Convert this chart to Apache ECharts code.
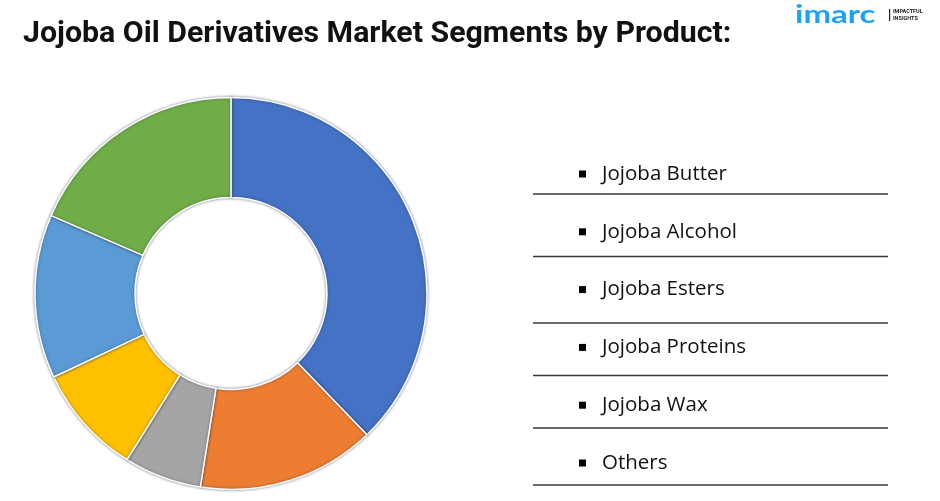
<!DOCTYPE html>
<html>
<head>
<meta charset="utf-8">
<script src="https://cdn.jsdelivr.net/npm/echarts@6/dist/echarts.min.js"></script>
<style>html,body{margin:0;padding:0;background:#fff;}#c{width:940px;height:501px;}</style>
</head>
<body>
<div id="c"></div>
<script>
const categories = ['Jojoba Butter', 'Jojoba Alcohol', 'Jojoba Esters', 'Jojoba Proteins', 'Jojoba Wax', 'Others'];
const shares = [37.8, 14.7, 6.4, 9.1, 13.5, 18.5];
const colors = ['#4472C4', '#ED7D31', '#A5A5A5', '#FFC000', '#5B9BD5', '#70AD47'];
const titleText = 'Jojoba Oil Derivatives Market Segments by Product:';

const chart = echarts.init(document.getElementById('c'));
const lineYs = [194, 256.5, 323, 375.5, 428, 485];
const graphics = lineYs.map(y => ({
  type: 'line', shape: {x1: 533, y1: y, x2: 888, y2: y},
  style: {stroke: '#3a3a3a', lineWidth: 1.3}
}));
graphics.push(
  {type: 'text', x: 23, y: 34, style: {text: titleText, font: 'bold 30.3px Roboto', fill: '#111', textVerticalAlign: 'middle'}},
  {type: 'text', x: 795, y: 3, scaleX: 1.5, scaleY: 1.1, style: {text: 'imarc', font: 'bold 22px Lato', fill: '#1DA1F2'}},
  {type: 'rect', shape: {x: 889, y: 9, width: 1.2, height: 12}, style: {fill: '#222'}},
  {type: 'text', x: 893, y: 9, style: {text: 'IMPACTFUL', font: 'bold 5.5px Roboto', fill: '#222'}},
  {type: 'text', x: 893, y: 16, style: {text: 'INSIGHTS', font: 'bold 5.5px Roboto', fill: '#222'}}
);

chart.setOption({
  animation: false,
  color: colors,
  legend: {
    orient: 'vertical', left: 574, top: 158.5,
    icon: 'rect', itemWidth: 7, itemHeight: 7, itemGap: 36.8,
    itemStyle: {color: '#000', borderWidth: 0},
    textStyle: {fontFamily: 'Open Sans', fontSize: 20.5, color: '#111', lineHeight: 20, padding: [0, 0, 0, 11]},
    selectedMode: false,
    data: categories
  },
  graphic: graphics,
  series: [{
    type: 'pie',
    center: [231, 293.5],
    radius: [96, 196],
    startAngle: 90,
    clockwise: true,
    label: {show: false},
    labelLine: {show: false},
    emphasis: {disabled: true},
    itemStyle: {borderColor: '#fff', borderWidth: 1.5, shadowBlur: 3, shadowColor: 'rgba(40,50,70,0.55)'},
    data: categories.map((n, i) => ({name: n, value: shares[i]}))
  }]
});
</script>
</body>
</html>
